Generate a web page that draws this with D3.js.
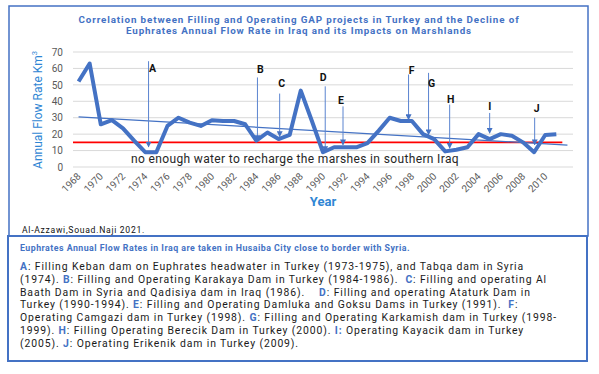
<!DOCTYPE html>
<meta charset="utf-8">
<style>
  body { margin: 0; background: #fff; }
  svg text { font-family: Roboto, "Liberation Sans", Arial, sans-serif; }
  .grid line { stroke: #d9d9d9; stroke-width: 1; }
  .axis text { fill: #595959; font-size: 10px; font-family: Roboto, sans-serif; }
  .flow { fill: none; stroke: #4472c4; stroke-width: 4; stroke-linejoin: round; }
  .trend { fill: none; stroke: #4472c4; stroke-width: 1.2; }
  .limit { stroke: #ff0000; stroke-width: 1.6; }
  .note line { stroke: #5b84d0; stroke-width: 1; }
  .note text { font-size: 10.5px; font-weight: bold; fill: #111; }
</style>
<body>
<svg width="599" height="374"></svg>
<script src="https://cdn.jsdelivr.net/npm/d3@7"></script>
<script>
// chart values
var years = d3.range(1968, 2012);
var flow = [52, 63, 26, 28.5, 23.5, 16, 9, 9, 25, 30, 27, 25, 28.5, 28, 28, 26,
            16, 21, 17, 19.5, 46.5, 28, 9, 12, 12, 12, 14.5, 22, 30, 28, 28, 20,
            17, 9.5, 10.5, 12, 20, 17, 20, 19, 15, 9, 19.5, 20];
var categories = d3.range(1968, 2013);           // axis slots, last one empty
var tickYears = d3.range(1968, 2011, 2);
var yTicks = [0, 10, 20, 30, 40, 50, 60, 70];
var limitValue = 15;                              // red threshold
var trendYears = [1968, 2012];
var trendValues = [30.5, 13.3];

// annotation letters: year, top of line, arrow tip, label (all in Km3)
var noteLetters = ["A", "B", "C", "D", "E", "F", "G", "H", "I", "J"];
var noteYears   = [1974.3, 1984.1, 1986.1, 1990.2, 1991.8, 1997.7, 1999.5, 2001.4, 2005, 2009.05];
var noteTop     = [64.4, 54.5, 44.7, 49.1, 36.9, 56.3, 57.3, 38, 32.9, 30];
var noteTip     = [12.2, 16.1, 18.5, 9.4, 13.5, 28.8, 19.6, 11.4, 20.6, 13.5];
var noteLabel   = [60, 59.4, 51.4, 55, 41, 58.8, 51.4, 41.6, 37.3, 36.1];

var titleLines = [
  "Correlation between  Filling and Operating GAP projects in Turkey and the Decline of",
  "Euphrates Annual Flow Rate in Iraq and its Impacts on Marshlands"
];
var legendLines = [
  [["A", 1], [": Filling Keban dam on Euphrates headwater in Turkey (1973-1975), and Tabqa dam in Syria", 0]],
  [["(1974). ", 0], ["B", 1], [": Filling and Operating Karakaya Dam in Turkey (1984-1986).  ", 0], ["C", 1], [": Filling and operating Al", 0]],
  [["Baath Dam in Syria and Qadisiya dam in Iraq (1986).    ", 0], ["D", 1], [": Filling and operating Ataturk Dam in", 0]],
  [["Turkey (1990-1994). ", 0], ["E", 1], [": Filling and Operating Damluka and Goksu Dams in Turkey (1991).  ", 0], ["F", 1], [":", 0]],
  [["Operating Camgazi dam in Turkey (1998). ", 0], ["G", 1], [": Filling and Operating Karkamish dam in Turkey (1998-", 0]],
  [["1999). ", 0], ["H", 1], [": Filling Operating Berecik Dam in Turkey (2000). ", 0], ["I:", 1], [" Operating Kayacik dam in Turkey", 0]],
  [["(2005). ", 0], ["J", 1], [": Operating Erikenik dam in Turkey (2009).", 0]]
];

var svg = d3.select("svg");

// widen a text with letter spacing so it spans the width seen in the picture
function spread(sel, w) {
  var len = sel.node().getComputedTextLength();
  var n = sel.text().length;
  var ls = Math.max(0, (w - len) / n);
  sel.attr("letter-spacing", ls);
  return ls;
}

// frames
svg.append("rect").attr("x", 9).attr("y", 6).attr("width", 579).attr("height", 230)
  .attr("fill", "none").attr("stroke", "#4472c4").attr("stroke-width", 1.5);
svg.append("rect").attr("x", 8).attr("y", 236).attr("width", 579).attr("height", 125)
  .attr("fill", "none").attr("stroke", "#4472c4").attr("stroke-width", 2);

var x = d3.scaleBand().domain(categories).range([73, 573]);
var cx = function(yr) { return x(1968) + (yr - 1968) * x.bandwidth() + x.bandwidth() / 2; };
var y = d3.scaleLinear().domain([0, 70]).range([167, 52]);

// title
var titleWidths = [442, 346];
svg.append("g").selectAll("text").data(titleLines).enter().append("text")
  .attr("x", 299).attr("y", function(d, i) { return 22.5 + i * 11.8; })
  .attr("text-anchor", "middle").attr("font-size", "9.8px").attr("font-weight", "bold")
  .attr("fill", "#4472c4").text(function(d) { return d; })
  .each(function(d, i) { spread(d3.select(this), titleWidths[i]); });

// grid
svg.append("g").attr("class", "grid").selectAll("line").data(yTicks).enter().append("line")
  .attr("x1", 73).attr("x2", 573)
  .attr("y1", function(d) { return y(d); }).attr("y2", function(d) { return y(d); });

// y axis labels
var yAxis = svg.append("g").attr("class", "axis")
  .attr("transform", "translate(73,0)")
  .call(d3.axisLeft(y).tickValues(yTicks).tickSize(0).tickPadding(10));
yAxis.select(".domain").remove();

// x axis labels, rotated
var xAxis = svg.append("g").attr("class", "axis")
  .attr("transform", "translate(0,167)")
  .call(d3.axisBottom(x).tickValues(tickYears).tickSize(0).tickPadding(0));
xAxis.select(".domain").remove();
xAxis.selectAll("text")
  .attr("text-anchor", "end").attr("dy", null).attr("y", 0)
  .attr("transform", "translate(3,10) rotate(-45)");

// axis titles
var yTitle = svg.append("text").attr("transform", "translate(42,110) rotate(-90)")
  .attr("text-anchor", "middle").attr("font-size", "12px").attr("fill", "#2f86d4");
yTitle.append("tspan").text("Annual Flow Rate Km");
yTitle.append("tspan").attr("dy", -5).attr("font-size", "7.5px").text("3");
svg.append("text").attr("x", 323).attr("y", 206).attr("text-anchor", "middle")
  .attr("font-size", "13px").attr("font-weight", "bold").attr("fill", "#2f86d4").text("Year");

// red threshold
svg.append("line").attr("class", "limit")
  .attr("x1", 73).attr("x2", cx(2011) + 6)
  .attr("y1", y(limitValue)).attr("y2", y(limitValue));

// trend line
svg.append("path").attr("class", "trend")
  .attr("d", d3.line().x(function(d, i) { return cx(trendYears[i]); }).y(function(d) { return y(d); })(trendValues));

// flow line
svg.append("path").attr("class", "flow")
  .attr("d", d3.line().x(function(d, i) { return cx(years[i]); }).y(function(d) { return y(d); })(flow));

// arrow marker
svg.append("defs").append("marker").attr("id", "arr")
  .attr("viewBox", "0 0 10 10").attr("refX", 9).attr("refY", 5)
  .attr("markerWidth", 6).attr("markerHeight", 6).attr("orient", "auto")
  .append("path").attr("d", "M0,0L10,5L0,10z").attr("fill", "#4472c4");

var labelDx = [4, 3, 2, -2, -2, 3, 3, 1, 0, 2];
var notes = svg.append("g").attr("class", "note");
noteLetters.forEach(function(l, i) {
  notes.append("line")
    .attr("x1", cx(noteYears[i])).attr("x2", cx(noteYears[i]))
    .attr("y1", y(noteTop[i])).attr("y2", y(noteTip[i]))
    .attr("marker-end", "url(#arr)");
  notes.append("text").attr("x", cx(noteYears[i]) + labelDx[i]).attr("y", y(noteLabel[i]) + 4)
    .attr("text-anchor", "middle").text(l);
});

var marsh = svg.append("text").attr("x", 295).attr("y", 163).attr("text-anchor", "middle")
  .attr("font-size", "12px").attr("fill", "#262626")
  .text("no enough water to recharge the marshes in southern Iraq");
spread(marsh, 328);

var credit = svg.append("text").attr("x", 22).attr("y", 232.5).attr("font-size", "8.6px").attr("fill", "#111")
  .text("Al-Azzawi,Souad.Naji 2021.");
spread(credit, 123);

var source = svg.append("text").attr("x", 20).attr("y", 250.5).attr("font-size", "8.8px").attr("font-weight", "bold")
  .attr("fill", "#4472c4")
  .text("Euphrates Annual Flow Rates in Iraq are taken in Husaiba City close to border with Syria.");
spread(source, 390);

var legend = svg.append("g");
var rows = [];
legendLines.forEach(function(parts, i) {
  var t = legend.append("text").attr("x", 20).attr("y", 270 + i * 12.75)
    .attr("font-size", "10.4px").attr("fill", "#1a1a1a").attr("xml:space", "preserve");
  parts.forEach(function(p) {
    t.append("tspan").text(p[0])
      .attr("fill", p[1] ? "#4472c4" : null)
      .attr("font-weight", p[1] ? "bold" : null);
  });
  rows.push(t);
});
var lls = spread(rows[1], 527);
rows.forEach(function(t) { t.attr("letter-spacing", lls); });
</script>
</body>
